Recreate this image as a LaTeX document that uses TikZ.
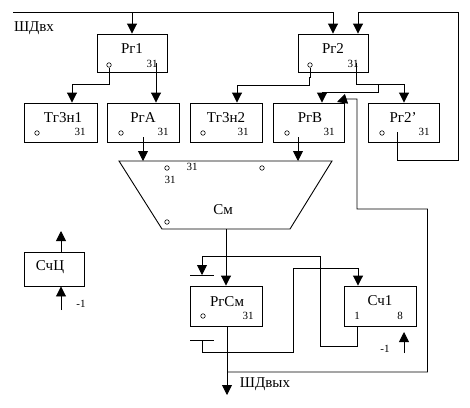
\documentclass[tikz,border=0pt]{standalone}
\usepackage{fontspec}
\setmainfont{Liberation Serif}
\usetikzlibrary{arrows.meta}
\begin{document}
\begin{tikzpicture}[x=1pt,y=-1pt,
  line width=0.9pt,
  box/.style={draw,rectangle,minimum width=#1,minimum height=39pt,inner sep=0pt},
  box/.default=71pt,
  ttl/.style={inner sep=0pt,font=\fontsize{15}{16}\selectfont},
  sml/.style={inner sep=0pt,font=\fontsize{11}{12}\selectfont},
  port/.style={draw,circle,minimum size=4.5pt,inner sep=0pt,line width=0.6pt},
  arr/.style={-{Triangle[width=10pt,length=10pt]}}
]
\useasboundingbox (0,0) rectangle (470,407);
% boxes
\node[box=70pt,minimum height=38pt] (pr1) at (132,53) {};
\node[box=70pt,minimum height=38pt] (pr2) at (333,53) {};
\node[box=73pt] (tr1) at (60.5,122.5) {};
\node[box=72pt] (pra) at (143,122.5) {};
\node[box=72pt] (tr2) at (226,122.5) {};
\node[box=71pt] (prb) at (308.5,122.5) {};
\node[box=71pt] (pr2p) at (403.5,122.5) {};
\node[box=72pt,minimum height=40pt] (rgsm) at (226,306) {};
\node[box=72pt,minimum height=40pt] (sch1) at (380,306) {};
\node[box=60pt,minimum height=34pt] (schc) at (54,269) {};
% adder (trapezoid)
\coordinate (smtl) at (119,161);
\coordinate (smtr) at (332,161);
\coordinate (smbr) at (290,229);
\coordinate (smbl) at (162,229);
\draw (smtl) -- (smtr) -- (smbr) -- (smbl) -- cycle;
\coordinate (smout) at (226,229);
% titles
\node[ttl] (t1) at (132,49) {Рг1};
\node[ttl] (t2) at (333,49) {Рг2};
\node[ttl] (t3) at (63,117.5) {Тг3н1};
\node[ttl] (t4) at (143,117.5) {РгА};
\node[ttl] (t5) at (226,117.5) {Тг3н2};
\node[ttl] (t6) at (310,117.5) {РгВ};
\node[ttl] (t7) at (403,117.5) {Рг2’};
\node[ttl] (t8) at (223,210) {См};
\node[ttl] (t9) at (227,302) {РгСм};
\node[ttl] (t10) at (380,301) {Сч1};
\node[ttl] (t11) at (50,267) {СчЦ};
\node[ttl] (tin) at (34,28) {ШДвх};
\node[ttl] (tout) at (265,384) {ШДвых};
% small labels
\node[sml] at (152,64) {31};
\node[sml] at (353,64) {31};
\node[sml] at (80,132) {31};
\node[sml] at (163,132) {31};
\node[sml] at (243,132) {31};
\node[sml] at (329,132) {31};
\node[sml] at (424,132) {31};
\node[sml] at (192,167) {31};
\node[sml] at (170,180) {31};
\node[sml] at (248,316) {31};
\node[sml] at (357,316) {1};
\node[sml] at (400,316) {8};
\node[sml] (m1a) at (81,304) {-1};
\node[sml] (m1b) at (385,349) {-1};
% ports
\node[port] (p1) at (109,65) {};
\node[port] (p2) at (310,65) {};
\node[port] at (37,133) {};
\node[port] at (121,133) {};
\node[port] at (203,133) {};
\node[port] at (287,133) {};
\node[port] at (382,133) {};
\node[port] at (167,168) {};
\node[port] at (262,168) {};
\node[port] at (167,222) {};
\node[port] at (203,316) {};
% connectors
\coordinate (busL) at (13,12);
\draw (busL) -- (333,12);
\draw[arr] (333,12) -- (pr2.north);
\draw[arr] (132,12) -- (pr1.north);
\draw[arr] (p1.south) |- (72,84) -- (72,0 |- tr1.north);
\coordinate (pr1q) at (156,63);
\draw[arr] (pr1q) -- (156,0 |- pra.north);
\coordinate (praq) at (143,137);
\draw[arr] (praq) -- (143,161);
\draw[arr] (p2.south) -- (310,77) -- (309,77) |- (237,85) -- (237,0 |- tr2.north);
\coordinate (pr2q) at (356,63);
\draw[arr] (pr2q) |- (404,84) -- (404,0 |- pr2p.north);
\draw[arr] (378,84) -- (378,92) -- (322,92) -- (322,0 |- prb.north);
\coordinate (prbq) at (298,137);
\draw[arr] (prbq) -- (298,161);
\draw[arr] (smout) -- (rgsm.north);
\coordinate (pr2pq) at (397,132);
\draw[arr] (pr2pq) -- (397,160) -- (458,160) -- (458,12) -- (358,12) -- (358,0 |- pr2.north);
% output and feedback
\coordinate (outtip) at (227,395);
\draw[arr] (227,0 |- rgsm.south) -- (outtip);
\draw[arr] (227,372) -- (427.5,372) -- (427.5,209) -- (357,209) -- (357,99) -- (346,99) -- (337,102);
% Сч1 output to РгСм
\draw[arr] (357,0 |- sch1.south) -- (357,346) -- (320,346) -- (320,256) -- (202,256) -- (202,275);
\draw (190,275) -- (214,275);
\draw (190,340) -- (214,340);
\draw[arr] (202,340) -- (202,352) -- (293,352) -- (293,268) -- (358,268) -- (358,0 |- sch1.north);
\draw[arr] (404,353) -- (404,332);
% СчЦ
\draw[arr] (61,0 |- schc.north) -- (61,231);
\draw[arr] (61,310) -- (61,0 |- schc.south);
\end{tikzpicture}
\end{document}
